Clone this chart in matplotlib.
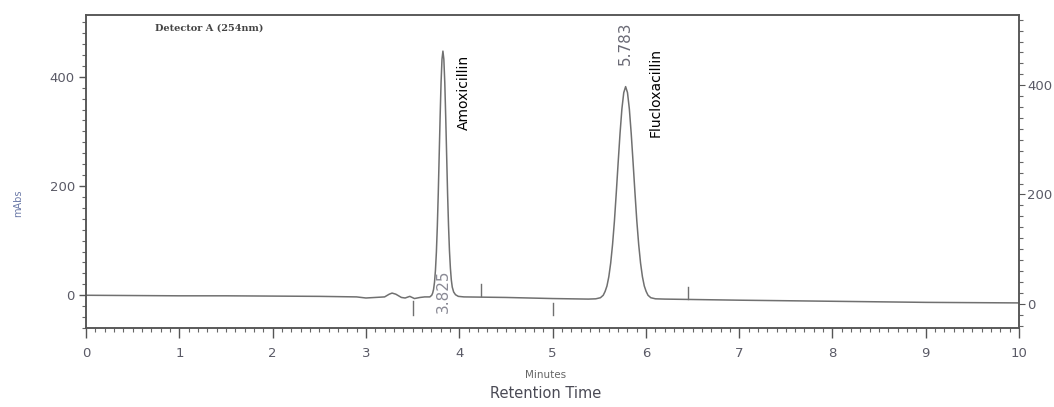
import matplotlib
matplotlib.use("Agg")
import matplotlib.pyplot as plt
from matplotlib.ticker import MultipleLocator

# Trace (minutes, mAbs)
time = [0.0, 0.5, 1.0, 1.5, 2.0, 2.5, 2.9, 3.0, 3.1, 3.2, 3.25, 3.28, 3.32, 3.38, 3.42,
        3.47, 3.52, 3.58, 3.63, 3.685, 3.705, 3.715, 3.725, 3.735, 3.745, 3.755, 3.765,
        3.775, 3.785, 3.795, 3.805, 3.815, 3.825, 3.835, 3.845, 3.855, 3.865, 3.875,
        3.885, 3.895, 3.905, 3.915, 3.925, 3.94, 3.96, 3.99, 4.05, 4.5, 5.0, 5.383,
        5.463, 5.513, 5.543, 5.563, 5.583, 5.603, 5.623, 5.643, 5.663, 5.683, 5.703,
        5.723, 5.743, 5.763, 5.783, 5.803, 5.823, 5.843, 5.863, 5.883, 5.903, 5.923,
        5.943, 5.963, 5.983, 6.003, 6.023, 6.053, 6.103, 6.2, 7.0, 8.0, 9.0, 10.0]
signal = [0, -0.5, -1, -1, -1.5, -2, -3, -5, -4, -3, 2, 4, 2, -4, -5,
          -2, -6, -4, -3, -3, 0, 4, 11, 24, 46, 79, 126,
          186, 256, 326, 389, 432, 447, 432, 389, 326, 256, 186,
          128, 82, 50, 28, 15, 6, 1, -2, -3, -4, -6, -7,
          -6.5, -4.5, 0, 7, 17, 34, 59, 93, 136, 188, 243,
          296, 341, 371, 382, 371, 341, 296, 243, 188, 136, 93,
          59, 34, 17, 7, 0, -4.5, -6.5, -7, -9, -11, -13, -14]

peak_rt = [3.825, 5.783]
peak_apex = [447, 382]
peak_names = ["Amoxicillin", "Flucloxacillin"]

# integration markers: position, bottom, top
mark_x = [3.5, 4.23, 5.0, 6.45]
mark_lo = [-37, -2, -37, -7]
mark_hi = [-11, 20, -15, 16]

x_ticks = [0, 1, 2, 3, 4, 5, 6, 7, 8, 9, 10]
y_ticks = [0, 200, 400]

grey = "#5a5a66"
fig = plt.figure(figsize=(10.54, 4.07), dpi=100)
ax = fig.add_axes([0.0816, 0.194, 0.8853, 0.769])

ax.plot(time, signal, color="#707070", lw=1.1)
for xm, lo, hi in zip(mark_x, mark_lo, mark_hi):
    ax.plot([xm, xm], [lo, hi], color="#707070", lw=1)

ax.set_xlim(0, 10)
ax.set_ylim(-60, 513)
ax.set_xticks(x_ticks)
ax.set_yticks(y_ticks)
ax.xaxis.set_minor_locator(MultipleLocator(0.1))
ax.yaxis.set_minor_locator(MultipleLocator(20))
ax.tick_params(axis="both", which="major", direction="out", length=5,
               width=1, colors="#555555", labelcolor=grey, labelsize=9.5, pad=3)
ax.tick_params(axis="x", which="major", length=7, pad=7)
ax.tick_params(axis="both", which="minor", direction="out", length=3,
               width=0.8, colors="#666666")
for s in ax.spines.values():
    s.set_color("#555555")
    s.set_linewidth(1.1)

ax2 = ax.twinx()
ax2.set_ylim(-44.5, 528.5)
ax2.set_yticks(y_ticks)
ax2.yaxis.set_minor_locator(MultipleLocator(20))
ax2.tick_params(axis="y", which="major", direction="out", length=4, pad=2,
                colors="#555555", labelcolor=grey, labelsize=9.5)
ax2.tick_params(axis="y", which="minor", direction="out", length=3,
                width=0.8, colors="#666666")
for s in ax2.spines.values():
    s.set_color("#555555")
    s.set_linewidth(1.1)

# retention time and compound labels
ax.text(peak_rt[0], 8, f"{peak_rt[0]:.3f}", rotation=90, ha="center", va="center",
        color="#8a8a95", fontsize=11)
ax.text(peak_rt[1], peak_apex[1] + 40, f"{peak_rt[1]:.3f}", rotation=90,
        ha="center", va="bottom", color="#6a6a75", fontsize=11)
ax.text(peak_rt[0] + 0.225, 440, peak_names[0], rotation=90, ha="center", va="top",
        color="black", fontsize=10)
ax.text(peak_rt[1] + 0.32, 453, peak_names[1], rotation=90, ha="center", va="top",
        color="black", fontsize=10)

ax.text(0.74, 489, "Detector A (254nm)", family="DejaVu Serif", fontweight="bold",
        fontsize=7, color="#444444", va="center")
fig.text(0.017, 0.5, "mAbs", rotation=90, ha="center", va="center",
         color="#6c7aa8", fontsize=7)
fig.text(0.518, 0.078, "Minutes", ha="center", va="center", color="#666666", fontsize=7.5)
fig.text(0.518, 0.034, "Retention Time", ha="center", va="center", color="#4a4a55",
         fontsize=10.5)

fig.savefig("out.png", dpi=100)
